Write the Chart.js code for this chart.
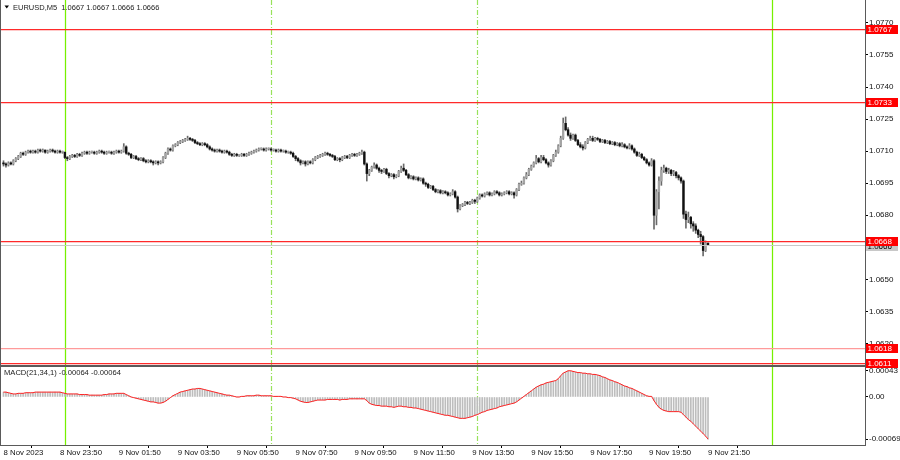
<!DOCTYPE html>
<html><head><meta charset="utf-8">
<script src="https://cdn.jsdelivr.net/npm/chart.js@4.4.0/dist/chart.umd.min.js"></script>
<style>
html,body{margin:0;padding:0;background:#fff;}
#wrap{position:relative;width:900px;height:460px;overflow:hidden;background:#fff;}
canvas{position:absolute;left:0;top:0;}
</style></head><body>
<div id="wrap"><canvas id="main" width="900" height="460"></canvas><canvas id="macd" width="900" height="460"></canvas></div>
<script>
// ---------------- DATA ----------------
const symbolTitle = 'EURUSD,M5';
const lastOHLC = ['1.0667', '1.0667', '1.0666', '1.0666'];
// Prices are in pips above PIP_BASE (price = PIP_BASE + pips * PIP). Bar 0 = 8 Nov 21:55, M5 bars.
const PIP_BASE = 1.06, PIP = 0.0001;
const openPips = [
104.5,104,103.5,104.5,104,105.5,106.5,107.5,109,108.5,109.5,110,
109.5,110,109.5,110.5,110,110.5,109.5,110,110.5,110,109.5,110,
109.5,109.5,107,106.5,107.5,108,107.5,108.5,108,109,109.5,109,
109.5,109.5,109,109.5,110,109.5,109,109.5,109.5,109,109.5,110,
109.5,110,112,109,108.5,107,107.5,106.5,106,106.5,105.5,105,
105.5,105,104.5,105,104.5,105,107,109,111,110.5,112.5,113,
114,114.5,115,115.5,116,115.5,115,114,113.5,113,113.5,113,
112,111,110.5,110,110.5,110,109.5,110,109.5,108.5,108,108.5,
108,108,108.5,108,108.5,109,109.5,110,110.5,111,111,110.5,
111,111,110.5,110.5,110,110.5,110,110,109.5,109.5,109,107.5,
106.5,105.5,104.5,105,104,105,104.5,106,107,107.5,108,108.5,
109,108.5,108,107.5,106,106.5,106,107,107.5,107,108,108.5,
108,108.5,109,109.5,104,99.5,101,102.5,103.5,102,101,100.5,
101.5,99.5,98.5,99,98,98.5,100.5,102,101,99,97.5,98,
97,97.5,96.5,97,95,94.5,93,93.5,92,91,91.5,90.5,
91,90.5,89.5,90,91,88.5,83,84.5,85,86,85.5,86,
87,86.5,88,89.5,89,90,90.5,89.5,90,91,90.5,89.5,
90,90.5,91,90,90.5,89.5,92,94.5,95,97.5,99,101.5,
103,104.5,106.5,105,107,106,104.5,103.5,105.5,108,109.5,112.5,
116,123,120,117.5,116,117.5,115,113,112,111.5,114,115.5,
116,115,116,115.5,114.5,115,114,114.5,113.5,114,113,113.5,
112.5,113,112,111.5,112.5,111,109.5,108,108.5,107,106,104.5,
103.5,105.5,80,91,96,101,102,100.5,101,99.5,100,98.5,
97.5,96,80.5,78,79,76,75,73,71,70,63.5,67];
const highPips = [
105.5,104.5,105,105,106,107,108,109.5,109.5,110,110.5,110.5,
110.5,110.5,111,111,111,110.5,110.5,111,111,110.5,110.5,110.5,
110,109.5,107.5,108,108.5,108.5,109,109,109.5,110,110,110,
110,110,110,110.5,110.5,110,110,110,110,110,110.5,110.5,
110.5,113.5,112.5,109.5,109,108,108,107,107,107,106,106,
106,105.5,105.5,105.5,105.5,107.5,109.5,111.5,111.5,113,113.5,114.5,
115,115.5,116,117,116.5,116,115.5,114.5,114,114,114,113.5,
112.5,111.5,111,111,111,110.5,110.5,110.5,110,109,109,109,
108.5,109,109,109,109.5,110,110.5,111,111.5,111.5,111.5,111.5,
111.5,111.5,111,111,111,111,110.5,110.5,110,110,109.5,108,
107,106,105.5,105.5,105.5,105.5,106.5,107.5,108,108.5,109,109.5,
109.5,109,108.5,108,107,107,107.5,108,108,108.5,109,109,
109,109.5,110.5,110,104.5,101.5,103,104.5,104,102.5,101.5,102,
102,100,99.5,99.5,99,101,103,104,101.5,99.5,98.5,98.5,
98,98,97.5,97.5,95.5,95,94,94,92.5,92,92,91.5,
91.5,91,90.5,92,91.5,89,85,85.5,86.5,86.5,86.5,87.5,
87.5,88.5,90,90,90.5,91,91,90.5,91.5,91.5,91,90.5,
91,91.5,91.5,91,91,92.5,95,96,98,100,102,103.5,
105,108,107,108,108,106.5,105,106,108.5,110.5,113,117,
125.5,126,121,118.5,118,118,115.5,114,113,114.5,116,117,
117,116.5,116.5,116,115.5,115.5,115,115,114.5,114.5,114,114,
114,113.5,112.5,113.5,113,111.5,110,109.5,109,107.5,106.5,105,
106.5,106,92,98,102.5,103.5,102.5,102,101.5,101,100.5,99,
98,96.5,82,81.5,79.5,77,76,73.5,72.5,70.5,68,67];
const lowPips = [
103,102.5,103,103.5,103.5,105,106,107,108,108,109,109,
109,109,109,109.5,109.5,109,109,109.5,109.5,109,109,109,
109,106.5,105.5,106,107,107,107,107.5,107.5,108.5,108.5,108.5,
109,108.5,108.5,109,109,108.5,108.5,109,108.5,108.5,109,109,
109,109.5,108.5,108,106.5,106.5,106,105.5,105.5,105,104.5,104.5,
104.5,103.5,104,103.5,104,104.5,106.5,108.5,110,110,112,112.5,
113.5,114,114.5,115,115,114.5,113.5,113,112.5,112.5,112.5,111.5,
110.5,110,109.5,109.5,109.5,109,109,109,108,107.5,107.5,107.5,
107.5,107.5,107.5,107.5,108,108.5,109,109.5,110,110.5,110,110,
110.5,110,110,109.5,109.5,109.5,109.5,109,109,108.5,107,105.5,
105,103.5,104,103,103.5,104,104,105.5,106.5,107,107.5,108,
108,107.5,107,105.5,105.5,105,105.5,106.5,106.5,106.5,107.5,107.5,
107.5,108,108.5,103.5,96,98.5,100.5,102,101.5,100,99.5,100,
99,97.5,98,97,97.5,98,100,100.5,98.5,97,97,96.5,
96.5,96,96,94.5,93.5,92.5,92.5,91.5,90.5,90.5,90,90,
90,89,89,89.5,88,81.5,82.5,84,84.5,85,85,85.5,
85.5,86,87.5,88.5,88.5,89.5,89,89,89.5,90,89,89,
89.5,90,89.5,89.5,88,89,91.5,94,94.5,97,98.5,101,
102.5,104,104.5,104.5,105.5,104,102.5,103,105,107.5,109,112,
115.5,119.5,117,115,115.5,114.5,112.5,111.5,110.5,111,113.5,115,
114.5,114.5,115,114,114,113.5,113.5,113,113,112.5,112.5,112,
112,111.5,111,111,110.5,109,107.5,107.5,106.5,105.5,104,103,
103,73.5,75.5,83,94,100,99.5,99.5,98.5,98.5,97.5,96.5,
95,78.5,74,76.5,74,72.5,71.5,69.5,66.5,61,63,66];
const closePips = [
104,103.5,104.5,104,105.5,106.5,107.5,109,108.5,109.5,110,109.5,
110,109.5,110.5,110,110.5,109.5,110,110.5,110,109.5,110,109.5,
109.5,107,106.5,107.5,108,107.5,108.5,108,109,109.5,109,109.5,
109.5,109,109.5,110,109.5,109,109.5,109.5,109,109.5,110,109.5,
110,112,109,108.5,107,107.5,106.5,106,106.5,105.5,105,105.5,
105,104.5,105,104.5,105,107,109,111,110.5,112.5,113,114,
114.5,115,115.5,116,115.5,115,114,113.5,113,113.5,113,112,
111,110.5,110,110.5,110,109.5,110,109.5,108.5,108,108.5,108,
108,108.5,108,108.5,109,109.5,110,110.5,111,111,110.5,111,
111,110.5,110.5,110,110.5,110,110,109.5,109.5,109,107.5,106.5,
105.5,104.5,105,104,105,104.5,106,107,107.5,108,108.5,109,
108.5,108,107.5,106,106.5,106,107,107.5,107,108,108.5,108,
108.5,109,109.5,104,99.5,101,102.5,103.5,102,101,100.5,101.5,
99.5,98.5,99,98,98.5,100.5,102,101,99,97.5,98,97,
97.5,96.5,97,95,94.5,93,93.5,92,91,91.5,90.5,91,
90.5,89.5,90,91,88.5,83,84.5,85,86,85.5,86,87,
86.5,88,89.5,89,90,90.5,89.5,90,91,90.5,89.5,90,
90.5,91,90,90.5,89.5,92,94.5,95,97.5,99,101.5,103,
104.5,106.5,105,107,106,104.5,103.5,105.5,108,109.5,112.5,116,
123,120,117.5,116,117.5,115,113,112,111.5,114,115.5,116,
115,116,115.5,114.5,115,114,114.5,113.5,114,113,113.5,112.5,
113,112,111.5,112.5,111,109.5,108,108.5,107,106,104.5,103.5,
105.5,80,91,96,101,102,100.5,101,99.5,100,98.5,97.5,
96,80.5,78,79,76,75,73,71,70,63.5,67,66];
// MACD(21,34,1) main value per bar, in units of 1e-5
const MACD_UNIT = 1e-5;
const macdUnits = [
8,8,7,6,5,5,6,6,6,7,7,7,
7,8,8,8,8,8,8,8,8,8,8,8,
7,6,5,5,5,5,5,4,4,4,4,3,
3,3,3,3,3,4,4,5,5,5,6,6,
6,6,4,2,0,-1,-2,-3,-4,-5,-6,-7,
-8,-8,-9,-10,-10,-9,-7,-4,-1,2,4,6,
8,9,10,11,12,13,13,14,14,13,12,11,
10,9,8,7,6,5,4,3,3,2,1,0,
0,1,1,2,2,2,2,3,3,2,2,2,
2,2,1,1,1,1,0,0,-1,-1,-2,-3,
-5,-7,-8,-9,-9,-8,-7,-6,-5,-5,-5,-5,
-4,-4,-4,-4,-4,-5,-4,-4,-4,-3,-3,-3,
-3,-3,-3,-3,-6,-10,-12,-13,-14,-14,-15,-15,
-15,-16,-16,-17,-16,-15,-15,-16,-16,-17,-17,-18,
-18,-19,-20,-21,-22,-23,-24,-25,-26,-27,-28,-29,
-30,-30,-31,-32,-33,-34,-35,-35,-35,-34,-33,-32,
-30,-29,-27,-25,-24,-22,-21,-20,-19,-18,-16,-15,
-14,-13,-12,-11,-10,-8,-5,-2,1,4,7,10,
13,16,18,20,21,23,24,25,26,27,30,35,
39,41,43,43,42,41,40,40,39,39,38,38,
37,37,36,35,33,32,30,28,27,25,24,22,
20,18,17,15,14,12,10,8,6,4,2,1,
1,-6,-12,-17,-20,-22,-23,-24,-24,-24,-24,-24,
-25,-29,-33,-37,-40,-44,-48,-52,-56,-60,-64,-69];
const macdTitle = 'MACD(21,34,1) -0.00064 -0.00064';
const timeTickIndex = [0,23,47,71,95,119,143,167,191,215,239,263,287];
const timeTickLabels = ['8 Nov 2023','8 Nov 23:50','9 Nov 01:50','9 Nov 03:50','9 Nov 05:50','9 Nov 07:50','9 Nov 09:50','9 Nov 11:50','9 Nov 13:50','9 Nov 15:50','9 Nov 17:50','9 Nov 19:50','9 Nov 21:50'];
const priceTicks = [1.0620,1.0635,1.0650,1.0665,1.0680,1.0695,1.0710,1.0725,1.0740,1.0755,1.0770];
const macdTicks = [0.00043, 0, -0.00069];
const levelPrices = [1.0767, 1.0733, 1.0668, 1.0618, 1.0611];
const levelColors = ['#ff2a2a', '#ff2a2a', '#ff2a2a', '#ff9a9a', '#ff2a2a'];
const bidPrice = 1.0666;
const dayStartIndex = [25, 313];   // 9 Nov 00:00, 10 Nov 00:00
const sessionIndex = [109, 193];   // 9 Nov 07:00, 9 Nov 14:00

// ---------------- VIEW ----------------
const X_MIN = -1.018, X_MAX = 350.95;
const P_MIN = 1.060993, P_MAX = 1.078071;
const M_MIN = -0.000787, M_MAX = 0.000508;
const FONT = 'Liberation Sans, Arial, sans-serif';
Chart.defaults.font.family = FONT;
Chart.defaults.font.size = 8;
Chart.defaults.color = '#000';

const toPrice = v => PIP_BASE + v * PIP;
const wickData = highPips.map((h, i) => ({x: i, y: [toPrice(lowPips[i]), toPrice(h)]}));
const bodyData = closePips.map((c, i) => ({x: i, y: [toPrice(openPips[i]), toPrice(c)]}));
const macdData = macdUnits.map((m, i) => ({x: i, y: m * MACD_UNIT}));

function fixAxisY(s) { s.width = 35; s.paddingTop = 0; s.paddingBottom = 0; }

function vLines(chart) {
  const ctx = chart.ctx, xs = chart.scales.x, a = chart.chartArea;
  ctx.save();
  dayStartIndex.forEach(i => {
    const px = Math.round(xs.getPixelForValue(i)) + 0.5;
    ctx.lineWidth = 1.25;
    ctx.strokeStyle = '#76f000'; ctx.setLineDash([]);
    ctx.beginPath(); ctx.moveTo(px, a.top); ctx.lineTo(px, a.bottom); ctx.stroke();
  });
  sessionIndex.forEach(i => {
    const px = Math.round(xs.getPixelForValue(i)) + 0.5;
    ctx.lineWidth = 1.2;
    ctx.strokeStyle = '#98e25c'; ctx.setLineDash([5, 2, 1, 2]);
    ctx.beginPath(); ctx.moveTo(px, a.top); ctx.lineTo(px, a.bottom); ctx.stroke();
  });
  ctx.restore();
}
function frame(chart, withTop) {
  const ctx = chart.ctx, a = chart.chartArea;
  ctx.save(); ctx.strokeStyle = '#5a5a5a'; ctx.lineWidth = 1; ctx.setLineDash([]);
  ctx.beginPath();
  ctx.moveTo(0.5, a.top); ctx.lineTo(0.5, a.bottom + 1);
  ctx.moveTo(a.right + 0.5, a.top); ctx.lineTo(a.right + 0.5, a.bottom + 1);
  ctx.moveTo(0, a.bottom + 0.5); ctx.lineTo(a.right + 1, a.bottom + 0.5);
  if (withTop) { ctx.moveTo(0, a.top + 0.5); ctx.lineTo(a.right + 1, a.top + 0.5); }
  ctx.stroke();
  ctx.restore();
}
function priceBox(ctx, y, text, bg, fg) {
  const yy = Math.round(y);
  ctx.fillStyle = bg;
  ctx.fillRect(866, yy - 4, 32, 9);
  ctx.fillStyle = fg;
  ctx.textAlign = 'left'; ctx.textBaseline = 'middle';
  ctx.fillText(text, 867.5, yy + 0.5);
}

const mainPlugin = {
  id: 'mainDeco',
  beforeDraw(chart) {
    const ctx = chart.ctx; ctx.save(); ctx.fillStyle = '#fff'; ctx.fillRect(0, 0, 900, 460); ctx.restore();
  },
  beforeDatasetsDraw(chart) { vLines(chart); },
  afterDatasetsDraw(chart) {
    const ctx = chart.ctx, ys = chart.scales.y, a = chart.chartArea;
    ctx.save(); ctx.lineWidth = 1;
    const by = Math.round(ys.getPixelForValue(bidPrice)) + 0.5;
    ctx.strokeStyle = '#c8c8c8';
    ctx.beginPath(); ctx.moveTo(a.left, by); ctx.lineTo(a.right, by); ctx.stroke();
    ctx.lineWidth = 1.25;
    levelPrices.forEach((p, k) => {
      const y = Math.round(ys.getPixelForValue(p)) + 0.5;
      ctx.strokeStyle = levelColors[k];
      ctx.beginPath(); ctx.moveTo(a.left, y); ctx.lineTo(a.right, y); ctx.stroke();
    });
    ctx.restore();
  },
  afterDraw(chart) {
    const ctx = chart.ctx, ys = chart.scales.y;
    frame(chart, false);
    ctx.save();
    ctx.font = '8px ' + FONT;
    priceBox(ctx, ys.getPixelForValue(bidPrice) + 0.5, bidPrice.toFixed(4), '#c8c8c8', '#000');
    levelPrices.forEach((p, k) => priceBox(ctx, ys.getPixelForValue(p), p.toFixed(4), '#ff0000', '#fff'));
    // title
    ctx.fillStyle = '#000';
    ctx.beginPath(); ctx.moveTo(4.5, 5.5); ctx.lineTo(9, 5.5); ctx.lineTo(6.75, 8.5); ctx.closePath(); ctx.fill();
    ctx.fillStyle = '#222';
    ctx.font = '7.5px ' + FONT;
    ctx.textAlign = 'left'; ctx.textBaseline = 'middle';
    ctx.fillText(symbolTitle + '  ' + lastOHLC.join(' '), 13, 7.5);
    ctx.restore();
  }
};

new Chart(document.getElementById('main'), {
  type: 'bar',
  data: {
    datasets: [
      {label: 'body', data: bodyData, order: 0, grouped: false, barThickness: 1.7, minBarLength: 1,
       backgroundColor: c => (closePips[c.dataIndex] >= openPips[c.dataIndex] ? '#a4a4a4' : '#111'),
       borderWidth: 0},
      {label: 'wick', data: wickData, order: 1, grouped: false, barThickness: 1,
       backgroundColor: '#6a6a6a', borderWidth: 0}
    ]
  },
  options: {
    responsive: false, animation: false, devicePixelRatio: 1,
    layout: {padding: {left: 1, top: 0, right: 0, bottom: 95}},
    plugins: {legend: {display: false}, tooltip: {enabled: false}, title: {display: false}},
    scales: {
      x: {type: 'linear', min: X_MIN, max: X_MAX, offset: false, display: false},
      y: {type: 'linear', position: 'right', min: P_MIN, max: P_MAX,
          afterFit: fixAxisY,
          afterBuildTicks: s => { s.ticks = priceTicks.map(v => ({value: v})); },
          ticks: {callback: v => Number(v).toFixed(4), padding: 1, color: '#111', font: {size: 8}},
          grid: {drawOnChartArea: false, drawTicks: true, tickLength: 3, color: '#000'},
          border: {display: false}}
    }
  },
  plugins: [mainPlugin]
});

const macdPlugin = {
  id: 'macdDeco',
  beforeDatasetsDraw(chart) { vLines(chart); },
  afterDraw(chart) {
    const ctx = chart.ctx, a = chart.chartArea;
    frame(chart, true);
    ctx.save();
    ctx.font = '7.6px ' + FONT; ctx.fillStyle = '#222';
    ctx.textAlign = 'left'; ctx.textBaseline = 'middle';
    ctx.fillText(macdTitle, 4, a.top + 7);
    ctx.restore();
  }
};

new Chart(document.getElementById('macd'), {
  type: 'bar',
  data: {
    datasets: [
      {type: 'line', label: 'signal', data: macdData, order: 0, borderColor: '#ff2020', borderWidth: 1,
       pointRadius: 0, tension: 0, fill: false},
      {type: 'bar', label: 'macd', data: macdData, order: 1, grouped: false, barThickness: 1,
       backgroundColor: '#bdbdbd', borderWidth: 0}
    ]
  },
  options: {
    responsive: false, animation: false, devicePixelRatio: 1,
    layout: {padding: {left: 1, top: 366, right: 0, bottom: 0}},
    plugins: {legend: {display: false}, tooltip: {enabled: false}, title: {display: false}},
    scales: {
      x: {type: 'linear', min: X_MIN, max: X_MAX, offset: false, position: 'bottom',
          afterFit: s => { s.height = 15; s.paddingLeft = 0; s.paddingRight = 0; },
          afterBuildTicks: s => { s.ticks = timeTickIndex.map(v => ({value: v})); },
          ticks: {callback: (v, i) => timeTickLabels[i], align: 'start', maxRotation: 0, minRotation: 0,
                  autoSkip: false, padding: 0, color: '#111', font: {size: 7.8}},
          grid: {drawOnChartArea: false, drawTicks: true, tickLength: 3, color: '#000'},
          border: {display: false}},
      y: {type: 'linear', position: 'right', min: M_MIN, max: M_MAX,
          afterFit: fixAxisY,
          afterBuildTicks: s => { s.ticks = macdTicks.map(v => ({value: v})); },
          ticks: {callback: v => (v === 0 ? '0.00' : Number(v).toFixed(5)), padding: 1, color: '#111', font: {size: 8}},
          grid: {drawOnChartArea: false, drawTicks: true, tickLength: 3, color: '#000'},
          border: {display: false}}
    }
  },
  plugins: [macdPlugin]
});
</script>
</body></html>
